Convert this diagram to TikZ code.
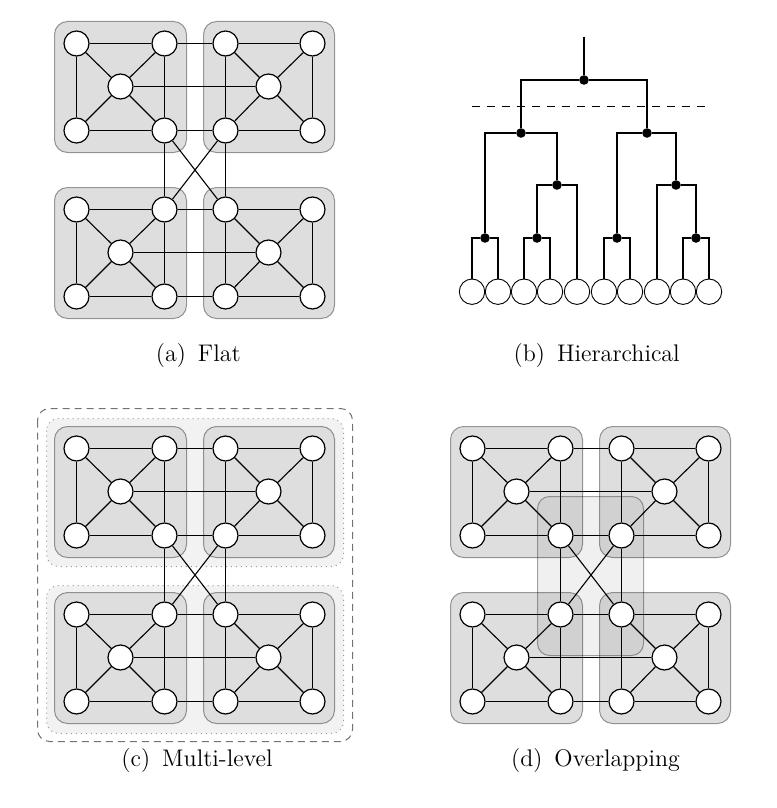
\documentclass[tikz,border=0pt]{standalone}
\pgfdeclarelayer{back}
\pgfdeclarelayer{edges}
\pgfsetlayers{back,edges,main}
\tikzset{
 gnode/.style={circle, draw=black, line width=0.6pt, fill=white, minimum size=12.5pt, inner sep=0pt},
 gedge/.style={line width=0.55pt, black},
 grayblock/.style={rounded corners=6.5pt, fill=black, fill opacity=0.13, draw=black, draw opacity=0.38, line width=0.5pt},
 solidgray/.style={fill=black!13, fill opacity=1},
 lightblock/.style={rounded corners=6pt, fill=black!5, draw=black!40, dotted, line width=0.5pt},
 outerblock/.style={rounded corners=6pt, draw=black!55, dash pattern=on 3.5pt off 2.5pt, line width=0.5pt},
 midblock/.style={rounded corners=6pt, fill=black, fill opacity=0.06, draw=black, draw opacity=0.35, line width=0.5pt},
 leaf/.style={circle, draw=black, line width=0.45pt, fill=white, minimum size=12.7pt, inner sep=0pt},
 tdot/.style={circle, fill=black, minimum size=4.8pt, inner sep=0pt},
 tline/.style={line width=0.9pt, black},
 cutline/.style={line width=0.45pt, black, dash pattern=on 4pt off 3.5pt},
 subcap/.style={anchor=base, inner sep=0pt, font=\fontsize{12}{14}\selectfont},
}
% four gray cluster blocks (local coordinates)
\newcommand{\grayblocks}[1][]{%
 \draw[grayblock,#1] (54.5,21.5) rectangle (186.5,152.5);
 \draw[grayblock,#1] (203.5,21.5) rectangle (334.5,152.5);
 \draw[grayblock,#1] (54.5,187.5) rectangle (186.5,318.5);
 \draw[grayblock,#1] (203.5,187.5) rectangle (334.5,318.5);
}
% nodes and edges of the clustered graph (local coordinates)
\newcommand{\graphnet}[1]{%
 \foreach \c/\x in {1/76.5,2/164.5,3/225.5,4/312.5}{
   \foreach \r/\y in {1/43.5,2/130.5,3/209.5,4/296.5}{
     \node[gnode] (#1\r\c) at (\x,\y) {};}}
 \node[gnode] (#1c1) at (120.5,86.5) {};
 \node[gnode] (#1c2) at (268.5,86.5) {};
 \node[gnode] (#1c3) at (120.5,252.5) {};
 \node[gnode] (#1c4) at (268.5,252.5) {};
 \begin{pgfonlayer}{edges}
 \foreach \r in {1,...,4}{\draw[gedge] (#1\r1) -- (#1\r2) -- (#1\r3) -- (#1\r4);}
 \foreach \c in {1,...,4}{\draw[gedge] (#11\c) -- (#12\c); \draw[gedge] (#13\c) -- (#14\c);}
 \draw[gedge] (#122) -- (#132);
 \draw[gedge] (#123) -- (#133);
 \draw[gedge] (#122) -- (#133);
 \draw[gedge] (#123) -- (#132);
 \draw[gedge] (#1c1) -- (#1c2);
 \draw[gedge] (#1c3) -- (#1c4);
 \foreach \a in {11,12,21,22}{\draw[gedge] (#1c1) -- (#1\a);}
 \foreach \a in {13,14,23,24}{\draw[gedge] (#1c2) -- (#1\a);}
 \foreach \a in {31,32,41,42}{\draw[gedge] (#1c3) -- (#1\a);}
 \foreach \a in {33,34,43,44}{\draw[gedge] (#1c4) -- (#1\a);}
 \end{pgfonlayer}
}
\begin{document}
\begin{tikzpicture}[x=0.5pt,y=-0.5pt]
\useasboundingbox (0,0) rectangle (776,808);

% ---------- (a) Flat ----------
\begin{pgfonlayer}{back}
 \grayblocks
\end{pgfonlayer}
\graphnet{a}
\node[subcap] (capa) at (198.3,361) {(a)\hspace{6pt}Flat};

% ---------- (b) Hierarchical ----------
\foreach \i/\x in {1/472,2/498,3/524,4/550,5/577,6/604,7/630,8/657,9/683,10/709}{
  \node[leaf] (L\i) at (\x,291.7) {};}
\node[tdot] (P1) at (485,238) {};
\node[tdot] (P2) at (537,238) {};
\node[tdot] (Q1) at (557,185) {};
\node[tdot] (DL) at (521,133) {};
\node[tdot] (P3) at (617,238) {};
\node[tdot] (P4) at (696,238) {};
\node[tdot] (Q2) at (676,185) {};
\node[tdot] (DR) at (647,133) {};
\node[tdot] (RT) at (584,80) {};
\coordinate (top) at (584,36.7);
\coordinate (cutL) at (471.7,106.5);
\coordinate (cutR) at (705,106.5);
\begin{pgfonlayer}{edges}
 \draw[tline] (top) -- (RT);
 \draw[tline] (RT) -| (DL);
 \draw[tline] (RT) -| (DR);
 \draw[tline] (DL) -| (P1);
 \draw[tline] (DL) -| (Q1);
 \draw[tline] (Q1) -| (P2);
 \draw[tline] (Q1) -| (L5);
 \draw[tline] (P1) -| (L1);
 \draw[tline] (P1) -| (L2);
 \draw[tline] (P2) -| (L3);
 \draw[tline] (P2) -| (L4);
 \draw[tline] (DR) -| (P3);
 \draw[tline] (DR) -| (Q2);
 \draw[tline] (Q2) -| (L8);
 \draw[tline] (Q2) -| (P4);
 \draw[tline] (P3) -| (L6);
 \draw[tline] (P3) -| (L7);
 \draw[tline] (P4) -| (L9);
 \draw[tline] (P4) -| (L10);
 \draw[cutline] (cutL) -- (cutR);
\end{pgfonlayer}
\node[subcap] (capb) at (596.7,361) {(b)\hspace{6pt}Hierarchical};

% ---------- (c) Multi-level ----------
\begin{pgfonlayer}{back}
 \draw[outerblock] (37.5,408.5) rectangle (352.5,741.5);
 \draw[lightblock] (46.5,418.5) rectangle (343.5,566.5);
 \draw[lightblock] (46.5,585.5) rectangle (343.5,733.5);
 \begin{scope}[shift={(0,405)}]
  \grayblocks[solidgray]
 \end{scope}
\end{pgfonlayer}
\begin{scope}[shift={(0,405)}]
 \graphnet{c}
\end{scope}
\node[subcap] (capc) at (197,766) {(c)\hspace{6pt}Multi-level};

% ---------- (d) Overlapping ----------
\begin{pgfonlayer}{back}
 \begin{scope}[shift={(396,405)}]
  \grayblocks
 \end{scope}
 \draw[midblock] (537.5,496.5) rectangle (643.5,655.5);
\end{pgfonlayer}
\begin{scope}[shift={(396,405)}]
 \graphnet{d}
\end{scope}
\node[subcap] (capd) at (595.5,766) {(d)\hspace{6pt}Overlapping};
\end{tikzpicture}
\end{document}
